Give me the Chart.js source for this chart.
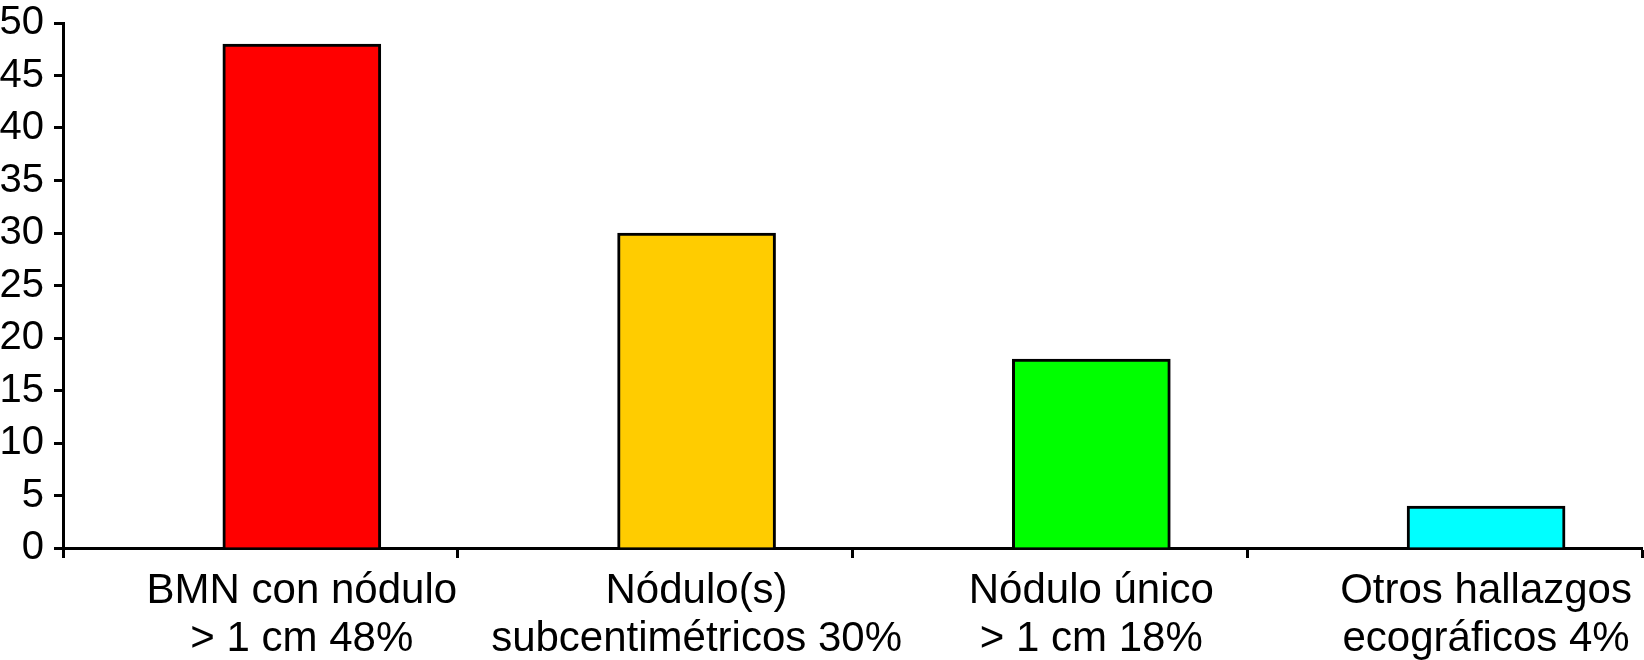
<!DOCTYPE html>
<html>
<head>
<meta charset="utf-8">
<script src="https://cdn.jsdelivr.net/npm/chart.js@4/dist/chart.umd.min.js"></script>
<style>
html,body{margin:0;padding:0;background:#fff;}
#wrap{width:1644px;height:660px;position:relative;}
</style>
</head>
<body>
<div id="wrap"><canvas id="c"></canvas></div>
<script>
const categories = [
  ["BMN con nódulo", "> 1 cm 48%"],
  ["Nódulo(s)", "subcentimétricos 30%"],
  ["Nódulo único", "> 1 cm 18%"],
  ["Otros hallazgos", "ecográficos 4%"]
];
const values = [48, 30, 18, 4];
const barColors = ["#FF0000", "#FFCC00", "#00FF00", "#00FFFF"];
const yTicks = [0, 5, 10, 15, 20, 25, 30, 35, 40, 45, 50];

const X_MIN = -0.605;
const FONT = "'Liberation Sans', Arial, Helvetica, sans-serif";

const points = values.map((v, i) => ({ x: i, y: v }));
const boundaries = categories.map((_, i) => X_MIN + i).concat([X_MIN + categories.length]);

new Chart(document.getElementById('c'), {
  type: 'bar',
  data: {
    datasets: [{
      data: points,
      backgroundColor: barColors,
      borderColor: '#000',
      borderWidth: 3,
      barThickness: 158
    }]
  },
  options: {
    responsive: true,
    maintainAspectRatio: false,
    animation: false,
    layout: { padding: { top: 0, right: 2, left: 0, bottom: 0 } },
    plugins: { legend: { display: false }, tooltip: { enabled: false } },
    scales: {
      x: {
        type: 'linear',
        offset: false,
        min: X_MIN,
        max: X_MIN + categories.length,
        afterBuildTicks: (scale) => {
          const t = [];
          boundaries.forEach(b => t.push({ value: b }));
          categories.forEach((_, i) => t.push({ value: i }));
          t.sort((a, b) => a.value - b.value);
          scale.ticks = t;
        },
        afterFit: (scale) => {
          scale.paddingLeft = 0;
          scale.paddingRight = 0;
          scale.height = 112;
        },
        ticks: {
          autoSkip: false,
          maxRotation: 0,
          minRotation: 0,
          padding: 9,
          color: '#000',
          font: { family: FONT, size: 42, lineHeight: 1.15 },
          callback: function (value) {
            const i = Math.round(value);
            if (Math.abs(value - i) < 1e-6 && i >= 0 && i < categories.length) return categories[i];
            return '';
          }
        },
        grid: {
          offset: false,
          drawOnChartArea: false,
          drawTicks: true,
          tickLength: 10,
          tickWidth: 3,
          tickColor: (ctx) => {
            const v = ctx.tick ? ctx.tick.value : 0;
            const i = Math.round(v);
            return (Math.abs(v - i) < 1e-6) ? 'rgba(0,0,0,0)' : '#000';
          }
        },
        border: { display: true, color: '#000', width: 3 }
      },
      y: {
        min: 0,
        max: 50,
        afterBuildTicks: (scale) => { scale.ticks = yTicks.map(v => ({ value: v })); },
        afterFit: (scale) => {
          scale.paddingTop = 23;
          scale.paddingBottom = 0;
          scale.width = 63;
        },
        ticks: {
          autoSkip: false,
          padding: 10,
          color: '#000',
          font: { family: FONT, size: 40 }
        },
        grid: {
          drawOnChartArea: false,
          drawTicks: true,
          tickLength: 9,
          tickWidth: 3,
          tickColor: '#000'
        },
        border: { display: true, color: '#000', width: 3 }
      }
    }
  }
});
</script>
</body>
</html>
